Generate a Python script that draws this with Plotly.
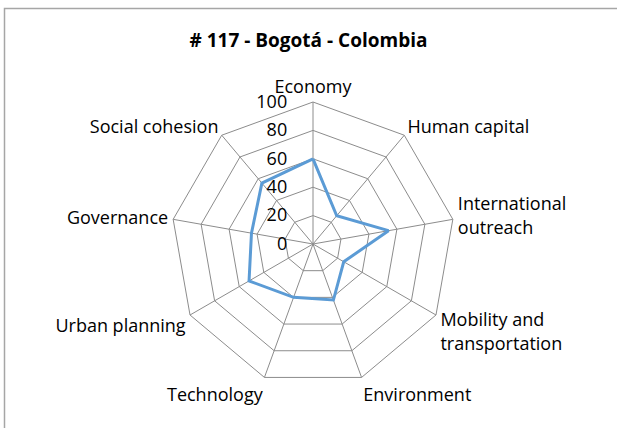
import plotly.graph_objects as go

categories = ["Economy", "Human capital", "International<br>outreach",
              "Mobility and<br>transportation", "Environment", "Technology",
              "Urban planning", "Governance", "Social cohesion"]
scores = [60, 26, 54, 25, 42, 40, 52, 44, 56]
radial_ticks = [0, 20, 40, 60, 80, 100]

W, H = 617, 428
cx, cy, R = 313, 244, 142
FONT = "Open Sans, sans-serif"

fig = go.Figure()
fig.add_trace(go.Scatterpolar(
    r=scores + scores[:1],
    theta=categories + categories[:1],
    mode="lines",
    line=dict(color="#5b9bd5", width=3),
    hoverinfo="skip",
    showlegend=False,
))

fig.update_layout(
    width=W, height=H,
    margin=dict(l=0, r=0, t=0, b=0),
    paper_bgcolor="white",
    font=dict(family=FONT, size=18, color="#000000"),
    title=dict(text="<b># 117 - Bogotá - Colombia</b>", x=0.5, xanchor="center",
               y=1 - 40 / H, yanchor="middle", font=dict(size=19)),
    polar=dict(
        domain=dict(x=[(cx - R) / W, (cx + R) / W],
                    y=[1 - (cy + R) / H, 1 - (cy - R) / H]),
        gridshape="linear",
        bgcolor="white",
        angularaxis=dict(
            direction="clockwise", rotation=90,
            showline=True, linecolor="#8c8c8c", linewidth=1,
            gridcolor="#8c8c8c", gridwidth=1,
            ticks="outside", ticklen=1, tickcolor="rgba(0,0,0,0)",
            tickfont=dict(size=18),
        ),
        radialaxis=dict(
            range=[0, 100], tickvals=radial_ticks, angle=90,
            showline=False, gridcolor="#8c8c8c", gridwidth=1,
            ticks="outside", ticklen=19, tickcolor="rgba(0,0,0,0)",
            tickfont=dict(size=18), tickangle=90,
            side="counterclockwise",
        ),
    ),
    shapes=[dict(type="rect", xref="paper", yref="paper",
                 x0=4.5 / W, x1=1.02, y0=-0.02, y1=1 - 8.5 / H,
                 line=dict(color="#a6a6a6", width=1.5))],
)

fig.write_html("out.html")
